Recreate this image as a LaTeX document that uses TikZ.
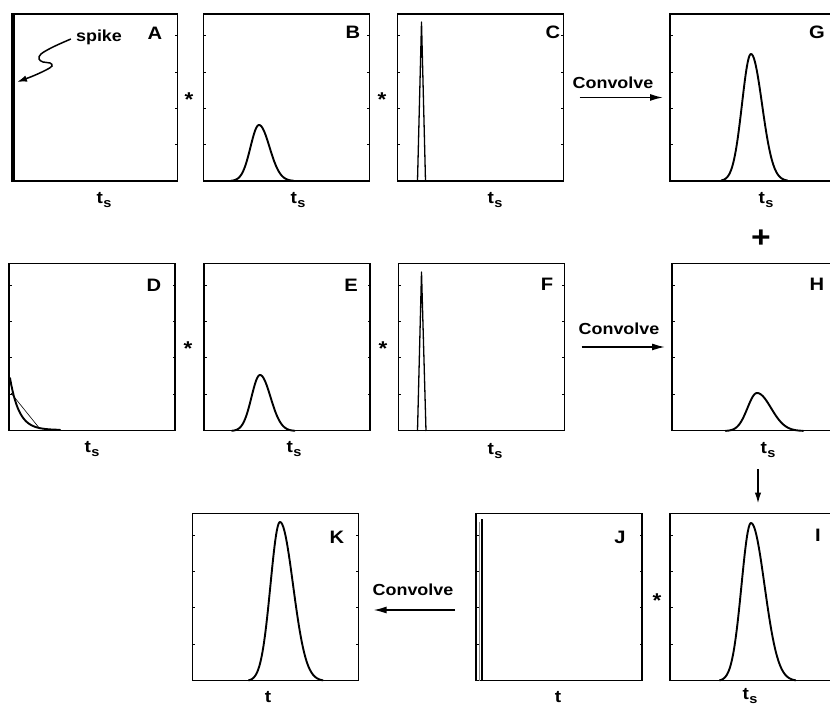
\documentclass[tikz,border=0pt]{standalone}
\usepackage{fontspec}
\setmainfont{Liberation Sans}[FakeStretch=1.12]
\usetikzlibrary{arrows.meta,calc}

\tikzset{
  panel/.style={draw, line width=1.8pt, minimum width=166pt, minimum height=167pt, inner sep=0pt, outer sep=0pt},
  curve/.style={line width=1.9pt, line join=round, line cap=round},
  tickst/.style={line width=0.8pt},
  plab/.style={font=\fontsize{18}{18}\selectfont\bfseries, inner sep=0pt},
  axl/.style={font=\fontsize{17}{17}\selectfont\bfseries, inner sep=0pt},
  txt/.style={font=\fontsize{16}{16}\selectfont\bfseries, inner sep=0pt},
  op/.style={font=\fontsize{20}{20}\selectfont\bfseries, inner sep=0pt},
  plusop/.style={font=\fontsize{30}{30}\selectfont\bfseries, inner sep=0pt},
  conv/.style={line width=1.5pt, -{Latex[length=13pt,width=7pt]}},
}

\newcommand{\tsub}{t\kern0.3pt\raisebox{-4pt}{\fontsize{13}{13}\selectfont s}}

\newcommand{\skewpeak}[5]{%
  \draw[curve] plot[domain=#1-3.3*#4:#1, samples=40] (\x,{#2-#3*exp(-((\x-#1)^2)/(2*#4*#4))})
    -- plot[domain=#1:#1+3.3*#5, samples=40] (\x,{#2-#3*exp(-((\x-#1)^2)/(2*#5*#5))});
}

\newcommand{\pticks}[1]{%
  \foreach \f in {0.217,0.435,0.652,0.87}{%
    \draw[tickst] ($(#1.south west)!\f!(#1.north west)$) -- ++(2.5,0);
    \draw[tickst] ($(#1.south east)!\f!(#1.north east)$) -- ++(-2.5,0);
  }%
}

\begin{document}
\begin{tikzpicture}[x=1pt,y=-1pt]
\useasboundingbox (0,0) rectangle (830,708);
\clip (0,0) rectangle (830,708);

% panels
\node[panel] (A) at (94.5,97.5) {};
\node[panel] (B) at (286.5,97.5) {};
\node[panel] (C) at (480.5,97.5) {};
\node[panel] (G) at (753,97.5) {};
\node[panel] (D) at (92,347) {};
\node[panel] (E) at (287,347) {};
\node[panel] (F) at (481.5,347) {};
\node[panel] (H) at (755,347) {};
\node[panel] (K) at (275.5,597) {};
\node[panel] (J) at (559,597) {};
\node[panel] (I) at (753,597) {};

\foreach \p in {A,B,C,G,D,E,F,H,K,J,I}{\pticks{\p}}

% panel letters
\node[plab] (lA) at (155,33) {A};
\node[plab] (lB) at (353,32) {B};
\node[plab] (lC) at (553,32) {C};
\node[plab] (lG) at (817,32) {G};
\node[plab] (lD) at (154,285) {D};
\node[plab] (lE) at (351,285) {E};
\node[plab] (lF) at (547,284) {F};
\node[plab] (lH) at (817,284) {H};
\node[plab] (lK) at (337,537) {K};
\node[plab] (lJ) at (620,537) {J};
\node[plab] (lI) at (818,535) {I};

% axis labels
\node[axl] (xA) at (104,200) {\tsub};
\node[axl] (xB) at (298,200) {\tsub};
\node[axl] (xC) at (495,200) {\tsub};
\node[axl] (xG) at (766,200) {\tsub};
\node[axl] (xD) at (92,449) {\tsub};
\node[axl] (xE) at (294,449) {\tsub};
\node[axl] (xF) at (495,451) {\tsub};
\node[axl] (xH) at (768,450) {\tsub};
\node[axl] (xK) at (268,697) {t};
\node[axl] (xJ) at (558,697) {t};
\node[axl] (xI) at (750,696) {\tsub};

% operators
\node[op] (s1) at (189,100) {*};
\node[op] (s2) at (382,100) {*};
\node[op] (s3) at (188,349) {*};
\node[op] (s4) at (383,349) {*};
\node[op] (s5) at (657,601) {*};
\node[plusop] (plus) at (761,239) {+};

% curves
\draw[line width=3.5pt] ([xshift=1.5pt]A.south west) -- ([xshift=1.5pt]A.north west);
\skewpeak{259}{181}{56}{8.5}{10.5}
\draw[line width=1.3pt, line join=round] (417.5,181) -- (421.5,22) -- (425.5,181);
\skewpeak{751}{181}{127}{9}{11}
\draw[curve] plot[domain=10:60, samples=40] (\x,{430-52*exp(-(\x-10)/9)});
\draw[line width=0.6pt] (11,393) -- (40,429);
\skewpeak{260}{431}{56}{8.5}{10.5}
\draw[line width=1.3pt, line join=round] (417.5,431) -- (421.5,272) -- (426,431);
\skewpeak{757}{431}{38}{9.5}{14}
\skewpeak{280}{681}{159}{9.5}{13}
\draw[line width=2.8pt] (482,681) -- (482,519);
\draw[line width=0.6pt, black!45] (479.3,681) -- (479.3,522);
\skewpeak{751}{681}{158}{9.5}{13.5}

% spike annotation
\node[txt] (spike) at (99,37) {spike};
\coordinate (spiketip) at (17,82);
\draw[line width=1.5pt, -{Latex[length=10pt,width=6.5pt]}] plot[smooth, tension=0.6] coordinates {([xshift=-5pt,yshift=-2pt]spike.west) (53,47) (41,54) (39,59) (43,62) (50,63) (52,66) (46,70) (33,76) (spiketip)};

% convolve arrows
\node[txt] (cv1) at (613,83) {Convolve};
\draw[conv, shorten <=16pt, shorten >=7pt] (C.east) -- (G.west);
\node[txt] (cv2) at (619,329) {Convolve};
\draw[conv, shorten <=17pt, shorten >=7pt] (F.east) -- (H.west);
\node[txt] (cv3) at (413,590) {Convolve};
\draw[conv, shorten <=21pt, shorten >=15pt] ([yshift=-13pt]J.west) -- ([yshift=-13pt]K.east);

% H -> I arrow
\coordinate (hsrc) at (758,469);
\draw[line width=1.5pt, -{Latex[length=11pt,width=6.5pt]}, shorten >=10pt] (hsrc) -- (hsrc |- I.north);
\end{tikzpicture}
\end{document}
